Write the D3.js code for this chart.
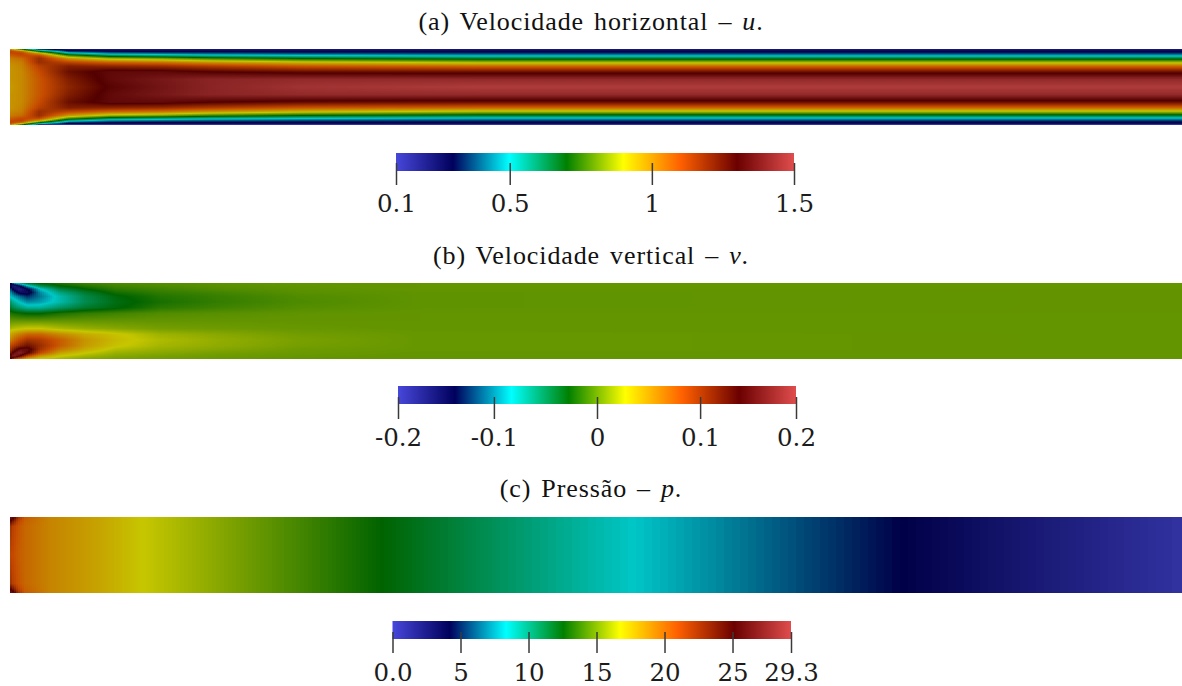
<!DOCTYPE html>
<html><head><meta charset="utf-8">
<style>html,body{margin:0;padding:0;background:#fff;overflow:hidden}</style>
<script src="https://cdn.jsdelivr.net/npm/d3@7"></script>
</head><body><svg id="c" width="1182" height="686"></svg>
<script>
// Colour map (fraction of range -> colour)
const cmapStops = [0, 0.143, 0.285, 0.429, 0.571, 0.714, 0.857, 1];
const cmapColors = ["#4747db", "#00005c", "#00ffff", "#008000", "#ffff00", "#ff6100", "#6b0000", "#e04d4d"];

// (a) Horizontal velocity u: x stations along channel, d = distance from wall (0) to centreline (1)
const uXs = [0, 0.01, 0.025, 0.05, 0.085, 0.13, 0.17, 0.25, 0.4, 1];
const uDs = [0, 0.03, 0.07, 0.12, 0.18, 0.25, 0.35, 0.45, 0.6, 0.8, 1];
const uGrid = [
  [0.95, 1.08, 1.12, 1.1, 1.06, 1.02, 1.0, 0.98, 0.98, 0.98, 0.97],
  [0.7, 0.85, 1.08, 1.12, 1.1, 1.05, 1.02, 1.01, 1.0, 1.0, 1.0],
  [0.3, 0.48, 0.75, 0.98, 1.12, 1.18, 1.18, 1.13, 1.1, 1.08, 1.08],
  [0.2, 0.26, 0.38, 0.58, 0.8, 0.98, 1.12, 1.22, 1.26, 1.22, 1.2],
  [0.2, 0.24, 0.32, 0.45, 0.65, 0.86, 1.06, 1.2, 1.33, 1.33, 1.31],
  [0.2, 0.24, 0.3, 0.42, 0.6, 0.82, 1.03, 1.18, 1.33, 1.38, 1.37],
  [0.2, 0.24, 0.3, 0.4, 0.56, 0.76, 0.98, 1.14, 1.3, 1.42, 1.42],
  [0.2, 0.24, 0.29, 0.38, 0.52, 0.7, 0.92, 1.08, 1.27, 1.44, 1.47],
  [0.2, 0.24, 0.29, 0.37, 0.49, 0.66, 0.87, 1.05, 1.26, 1.44, 1.5],
  [0.2, 0.24, 0.29, 0.37, 0.49, 0.66, 0.87, 1.05, 1.26, 1.44, 1.5]
];
const uLowerEdge = 0.12;
const uTicks = [0.1, 0.5, 1, 1.5];
const uLabels = ["0.1", "0.5", "1", "1.5"];

// (b) Vertical velocity v: upper half listed, lower half has the opposite sign
const vXs = [0, 0.0034, 0.0085, 0.015, 0.0256, 0.0427, 0.064, 0.09, 0.128, 0.179, 0.247, 0.35, 1];
const vDs = [0, 0.08, 0.16, 0.25, 0.35, 0.5, 0.65, 0.8, 1];
const vGrid = [
  [-0.15, -0.14, -0.115, -0.095, -0.085, -0.055, -0.04, -0.018, 0],
  [-0.09, -0.17, -0.15, -0.12, -0.095, -0.07, -0.05, -0.022, 0],
  [-0.06, -0.14, -0.17, -0.15, -0.11, -0.085, -0.06, -0.025, 0],
  [-0.035, -0.09, -0.14, -0.15, -0.125, -0.1, -0.07, -0.028, 0],
  [-0.025, -0.05, -0.085, -0.1, -0.105, -0.095, -0.07, -0.028, 0],
  [-0.018, -0.028, -0.045, -0.062, -0.075, -0.075, -0.055, -0.02, 0],
  [-0.01, -0.018, -0.028, -0.04, -0.048, -0.05, -0.04, -0.014, 0],
  [-0.006, -0.01, -0.015, -0.022, -0.03, -0.033, -0.03, -0.01, 0],
  [-0.004, -0.006, -0.01, -0.014, -0.018, -0.021, -0.016, -0.005, 0],
  [-0.002, -0.003, -0.005, -0.009, -0.012, -0.013, -0.01, -0.003, 0],
  [0, -0.001, -0.002, -0.003, -0.005, -0.006, -0.004, -0.001, 0],
  [0, 0, 0, -0.001, -0.001, -0.001, -0.001, 0, 0],
  [0, 0, 0, 0, 0, 0, 0, 0, 0]
];
const vRange = [-0.193, 0.193];
const vTicks = [-0.193, -0.1, 0, 0.1, 0.193];
const vLabels = ["-0.2", "-0.1", "0", "0.1", "0.2"];

// (c) Pressure p
const pXs = [0, 0.0026, 0.0068, 0.0128, 0.034, 0.077, 0.111, 0.213, 0.316, 0.422, 0.529, 0.644, 0.76, 0.879, 1];
const pDs = [0, 0.05, 0.12, 0.25, 1];
const pGrid = [
  [26.5, 26, 25, 22.5, 21.2],
  [26, 25, 23.5, 21.5, 21],
  [22.5, 22, 21.3, 20.7, 20.4],
  [20.5, 20.3, 20.2, 20, 20],
  [19, 19, 19, 19, 19],
  [17.9, 17.9, 17.9, 17.9, 17.9],
  [16.8, 16.8, 16.8, 16.8, 16.8],
  [14.7, 14.7, 14.7, 14.7, 14.7],
  [12.6, 12.6, 12.6, 12.6, 12.6],
  [10.5, 10.5, 10.5, 10.5, 10.5],
  [8.4, 8.4, 8.4, 8.4, 8.4],
  [6.3, 6.3, 6.3, 6.3, 6.3],
  [4.2, 4.2, 4.2, 4.2, 4.2],
  [2.2, 2.2, 2.2, 2.2, 2.2],
  [0.4, 0.4, 0.4, 0.4, 0.4]
];
const pTicks = [0, 5, 10, 15, 20, 25, 29.3];
const pLabels = ["0.0", "5", "10", "15", "20", "25", "29.3"];

const titles = [
  ["(a) Velocidade horizontal – ", "u", "."],
  ["(b) Velocidade vertical – ", "v", "."],
  ["(c) Pressão – ", "p", "."]
];

const LIGHT = 0.78;
const LABEL_SIZE = 24.5;
const svg = d3.select("#c");
svg.append("rect").attr("width", 1182).attr("height", 686).attr("fill", "#fff");

const cmap = d3.scaleLinear().domain(cmapStops).range(cmapColors).interpolate(d3.interpolateRgb).clamp(true);

function columnSteps(x0, x1) {
  const cols = [];
  let x = x0;
  while (x < x1) {
    const w = x < 160 ? 2 : x < 500 ? 4 : 8;
    cols.push({x, w: Math.min(w, x1 - x)});
    x += w;
  }
  return cols;
}

function drawField(cfg) {
  const {xs, ds, grid, domain, top, bottom, antisym, lowerEdge} = cfg;
  const left = 10, right = 1182;
  const xPos = d3.scaleLinear().domain([0, 1]).range([left, right]);
  const yPos = d3.scaleLinear().domain([-1, 1]).range([top, bottom]);
  const norm = d3.scaleLinear().domain(domain).range([0, 1]).clamp(true);
  const nd = ds.length;
  const rowScales = d3.range(nd).map(j => d3.scaleLinear().domain(xs).range(grid.map(r => r[j])).clamp(true));
  const cells = [];
  for (const c of columnSteps(left, right)) {
    const fx = xPos.invert(c.x + c.w / 2);
    const col = d3.scaleLinear().domain(ds).range(rowScales.map(s => s(fx))).clamp(true);
    for (let py = top; py < bottom; py++) {
      const eta = yPos.invert(py + 0.5);
      const d = 1 - Math.abs(eta);
      let val = col(d);
      if (antisym && eta > 0) val = -val;
      if (lowerEdge != null && py === bottom - 1 && fx > 0.025) val = lowerEdge;
      const rgb = d3.rgb(cmap(norm(val)));
      cells.push({x: c.x, w: c.w, y: py, fill: `rgb(${rgb.r * LIGHT | 0},${rgb.g * LIGHT | 0},${rgb.b * LIGHT | 0})`});
    }
  }
  svg.append("g").attr("shape-rendering", "crispEdges")
    .selectAll("rect").data(cells).join("rect")
    .attr("x", d => d.x).attr("y", d => d.y)
    .attr("width", d => d.w).attr("height", 1).attr("fill", d => d.fill);
}

function drawBar(cfg, idx) {
  const {domain, ticks, labels, x0, x1, y0, y1, tickTop, tickBottom, baseline} = cfg;
  const id = "grad" + idx;
  const grad = svg.append("defs").append("linearGradient").attr("id", id);
  grad.selectAll("stop").data(cmapStops).join("stop")
    .attr("offset", d => d).attr("stop-color", (d, i) => cmapColors[i]);
  svg.append("rect").attr("x", x0).attr("y", y0).attr("width", x1 - x0).attr("height", y1 - y0).attr("fill", `url(#${id})`);
  const x = d3.scaleLinear().domain(domain).range([x0, x1]);
  const axis = d3.axisBottom(x).tickValues(ticks).tickSize(tickBottom - tickTop)
    .tickPadding(baseline - tickBottom - 0.71 * LABEL_SIZE).tickFormat((d, i) => labels[i]);
  const g = svg.append("g").attr("transform", `translate(0,${tickTop})`).call(axis);
  g.select(".domain").remove();
  g.selectAll("line").attr("stroke", "#3a3a3a").attr("stroke-width", 1.5);
  g.selectAll("text").attr("fill", "#1c1c1c").attr("font-family", "'DejaVu Serif'").attr("font-size", LABEL_SIZE);
}

const fields = [
  {xs: uXs, ds: uDs, grid: uGrid, domain: [0.1, 1.5], top: 49, bottom: 125, lowerEdge: uLowerEdge},
  {xs: vXs, ds: vDs, grid: vGrid, domain: vRange, top: 283, bottom: 359, antisym: true},
  {xs: pXs, ds: pDs, grid: pGrid, domain: [0, 29.3], top: 517, bottom: 593}
];
fields.forEach(drawField);

[
  {domain: [0.1, 1.5], ticks: uTicks, labels: uLabels, x0: 396, x1: 794, y0: 153, y1: 171, tickTop: 163, tickBottom: 185, baseline: 212},
  {domain: vRange, ticks: vTicks, labels: vLabels, x0: 398, x1: 796, y0: 386, y1: 404, tickTop: 397, tickBottom: 419, baseline: 446},
  {domain: [0, 29.3], ticks: pTicks, labels: pLabels, x0: 392.5, x1: 791, y0: 621, y1: 639, tickTop: 632, tickBottom: 653, baseline: 681}
].forEach(drawBar);

const titleY = [30, 264, 497];
const t = svg.append("g").attr("font-family", "'Liberation Serif'").attr("font-size", 26).attr("fill", "#111")
  .attr("text-anchor", "middle").attr("letter-spacing", 0.9).attr("word-spacing", 2.6);
titles.forEach((parts, i) => {
  const el = t.append("text").attr("x", 591).attr("y", titleY[i]);
  el.append("tspan").text(parts[0]);
  el.append("tspan").attr("font-style", "italic").text(parts[1]);
  el.append("tspan").text(parts[2]);
});
</script></body></html>
